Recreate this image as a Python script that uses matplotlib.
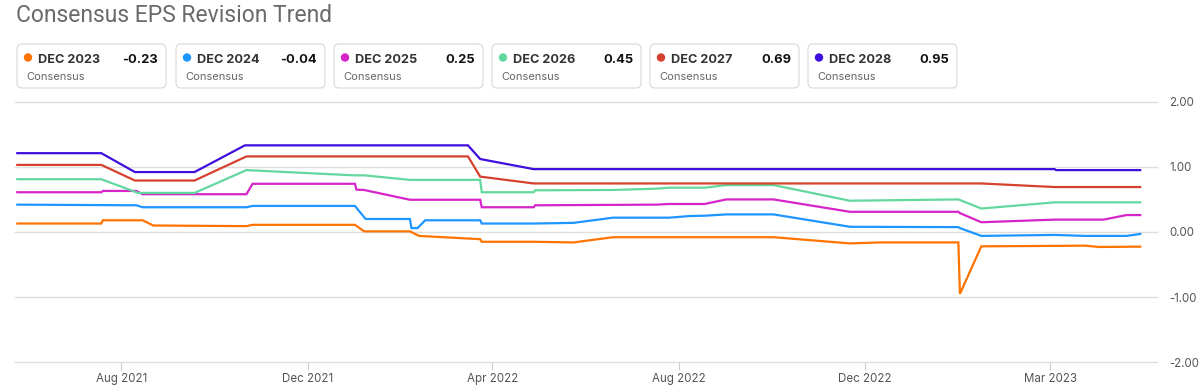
import matplotlib
matplotlib.use('Agg')
import matplotlib.pyplot as plt
from matplotlib.patches import FancyBboxPatch, Circle
from matplotlib.transforms import Affine2D
import pandas as pd

# ---------------- data ----------------
series_names = ['DEC 2023', 'DEC 2024', 'DEC 2025', 'DEC 2026', 'DEC 2027', 'DEC 2028']
legend_values = ['-0.23', '-0.04', '0.25', '0.45', '0.69', '0.95']
series_colors = ['#FF7300', '#1E96FF', '#D624C8', '#62D89E', '#D6402F', '#400DDF']

dates_2023 = ['2021-05-25', '2021-07-19', '2021-07-20', '2021-08-15', '2021-08-22', '2021-10-22',
              '2021-10-26', '2022-01-01', '2022-01-07', '2022-02-06', '2022-02-12', '2022-03-24',
              '2022-03-25', '2022-04-28', '2022-05-24', '2022-06-19', '2022-10-02', '2022-11-21',
              '2022-12-11', '2023-01-31', '2023-02-01', '2023-02-15', '2023-04-24', '2023-05-03',
              '2023-05-30']
vals_2023 = [0.13, 0.13, 0.18, 0.18, 0.10, 0.09,
             0.11, 0.11, 0.01, 0.01, -0.06, -0.11,
             -0.15, -0.15, -0.16, -0.08, -0.08, -0.175,
             -0.16, -0.16, -0.95, -0.22, -0.21, -0.23,
             -0.225]

dates_2024 = ['2021-05-25', '2021-08-11', '2021-08-15', '2021-10-22', '2021-10-26', '2022-01-01',
              '2022-01-08', '2022-02-06', '2022-02-07', '2022-02-11', '2022-02-16', '2022-03-24',
              '2022-03-25', '2022-04-28', '2022-05-24', '2022-06-19', '2022-07-26', '2022-08-08',
              '2022-08-18', '2022-09-01', '2022-10-02', '2022-11-21', '2023-01-31', '2023-02-01',
              '2023-02-15', '2023-04-04', '2023-04-24', '2023-05-21', '2023-05-30']
vals_2024 = [0.42, 0.41, 0.38, 0.38, 0.40, 0.40,
             0.20, 0.20, 0.06, 0.06, 0.18, 0.18,
             0.13, 0.13, 0.14, 0.22, 0.22, 0.245,
             0.25, 0.27, 0.27, 0.08, 0.075, 0.06,
             -0.06, -0.045, -0.06, -0.06, -0.03]

dates_2025 = ['2021-05-25', '2021-07-19', '2021-07-20', '2021-08-11', '2021-08-15', '2021-10-22',
              '2021-10-26', '2022-01-01', '2022-01-02', '2022-01-07', '2022-02-06', '2022-03-24',
              '2022-03-25', '2022-04-28', '2022-04-29', '2022-07-17', '2022-07-26', '2022-08-18',
              '2022-09-01', '2022-10-02', '2022-11-21', '2023-01-31', '2023-02-01', '2023-02-15',
              '2023-04-04', '2023-05-06', '2023-05-21', '2023-05-30']
vals_2025 = [0.61, 0.61, 0.63, 0.63, 0.58, 0.58,
             0.74, 0.74, 0.65, 0.645, 0.495, 0.495,
             0.38, 0.38, 0.41, 0.42, 0.43, 0.43,
             0.50, 0.50, 0.31, 0.31, 0.29, 0.15,
             0.19, 0.19, 0.26, 0.26]

dates_2026 = ['2021-05-25', '2021-07-19', '2021-08-12', '2021-09-18', '2021-10-22', '2021-12-31',
              '2022-01-07', '2022-02-06', '2022-03-24', '2022-03-25', '2022-04-28', '2022-04-29',
              '2022-06-19', '2022-07-17', '2022-07-26', '2022-08-18', '2022-09-01', '2022-10-02',
              '2022-11-21', '2023-01-31', '2023-02-15', '2023-04-04', '2023-05-30']
vals_2026 = [0.81, 0.81, 0.60, 0.60, 0.95, 0.87,
             0.87, 0.80, 0.80, 0.61, 0.61, 0.64,
             0.645, 0.665, 0.68, 0.68, 0.72, 0.72,
             0.48, 0.50, 0.36, 0.455, 0.455]

dates_2027 = ['2021-05-25', '2021-07-19', '2021-08-10', '2021-09-18', '2021-10-22', '2022-03-16',
              '2022-03-24', '2022-04-28', '2023-02-15', '2023-04-04', '2023-05-30']
vals_2027 = [1.03, 1.03, 0.79, 0.79, 1.16, 1.16,
             0.85, 0.745, 0.745, 0.69, 0.69]

dates_2028 = ['2021-05-25', '2021-07-19', '2021-08-10', '2021-09-18', '2021-10-21', '2022-03-16',
              '2022-03-24', '2022-04-28', '2023-04-04', '2023-04-05', '2023-05-30']
vals_2028 = [1.21, 1.21, 0.92, 0.92, 1.33, 1.33,
             1.12, 0.965, 0.965, 0.95, 0.95]

series_dates = [dates_2023, dates_2024, dates_2025, dates_2026, dates_2027, dates_2028]
series_vals = [vals_2023, vals_2024, vals_2025, vals_2026, vals_2027, vals_2028]

x_tick_dates = ['2021-08-01', '2021-12-01', '2022-04-01', '2022-08-01', '2022-12-01', '2023-04-01']
x_tick_labels = ['Aug 2021', 'Dec 2021', 'Apr 2022', 'Aug 2022', 'Dec 2022', 'Mar 2023']
y_ticks = [-2, -1, 0, 1, 2]
y_tick_labels = ['-2.00', '-1.00', '0.00', '1.00', '2.00']

title = 'Consensus EPS Revision Trend'
legend_sub = 'Consensus'

# ---------------- figure ----------------
W, H = 1199, 387
plt.rcParams['font.family'] = ['Inter', 'DejaVu Sans']
fig = plt.figure(figsize=(W / 100, H / 100), dpi=100)
fig.patch.set_facecolor('white')
pxT = Affine2D().scale(1, -1).translate(0, H)  # pixel coords with y from top

ax = fig.add_axes([15 / W, 1 - 362.3 / H, (1157 - 15) / W, (362.3 - 101.7) / H])
for sp in ax.spines.values():
    sp.set_visible(False)

for d, v, c in zip(series_dates, series_vals, series_colors):
    ax.plot(pd.to_datetime(d), v, color=c, lw=1.6, solid_joinstyle='miter', zorder=3)

ax.set_ylim(-2, 2)
ax.set_xlim(pd.Timestamp('2021-05-23 12:00'), pd.Timestamp('2023-06-10'))
ax.set_yticks(y_ticks)
ax.set_yticklabels(y_tick_labels)
ax.yaxis.tick_right()
ax.tick_params(axis='y', length=0, pad=9, labelsize=8.3, labelcolor='#555555')
ax.grid(axis='y', color='#dedede', lw=1)
for gl in ax.get_ygridlines():
    gl.set_clip_on(False)
ax.set_xticks(pd.to_datetime(x_tick_dates))
ax.set_xticklabels(x_tick_labels)
ax.tick_params(axis='x', length=6, width=0.8, color='#cccccc', pad=2,
               labelsize=8.3, labelcolor='#555555')

# title
fig.text(16, 16, title, transform=pxT, fontsize=16.5, color='#6a6a6a',
         ha='left', va='center', family=['Roboto', 'DejaVu Sans'])

# legend cards
box_lefts = [17, 176, 334, 492, 650, 808]
for i, (name, val, col) in enumerate(zip(series_names, legend_values, series_colors)):
    x0 = box_lefts[i]
    box = FancyBboxPatch((x0, 44), 149, 44, boxstyle='round,pad=0,rounding_size=5',
                         transform=pxT, facecolor='white', edgecolor='#d8d8d8', lw=0.8)
    fig.add_artist(box)
    fig.add_artist(Circle((x0 + 11, 57.5), 4.2, transform=pxT, color=col, lw=0))
    fig.text(x0 + 21, 58.5, name, transform=pxT, fontsize=9.1, fontweight='bold',
             color='#333333', ha='left', va='center_baseline')
    fig.text(x0 + 141, 58.5, val, transform=pxT, fontsize=9.3, fontweight='bold',
             color='#111111', ha='right', va='center_baseline')
    fig.text(x0 + 9, 76.5, legend_sub, transform=pxT, fontsize=8, color='#666666',
             ha='left', va='center_baseline')

fig.savefig('out.png', dpi=100, facecolor='white')
